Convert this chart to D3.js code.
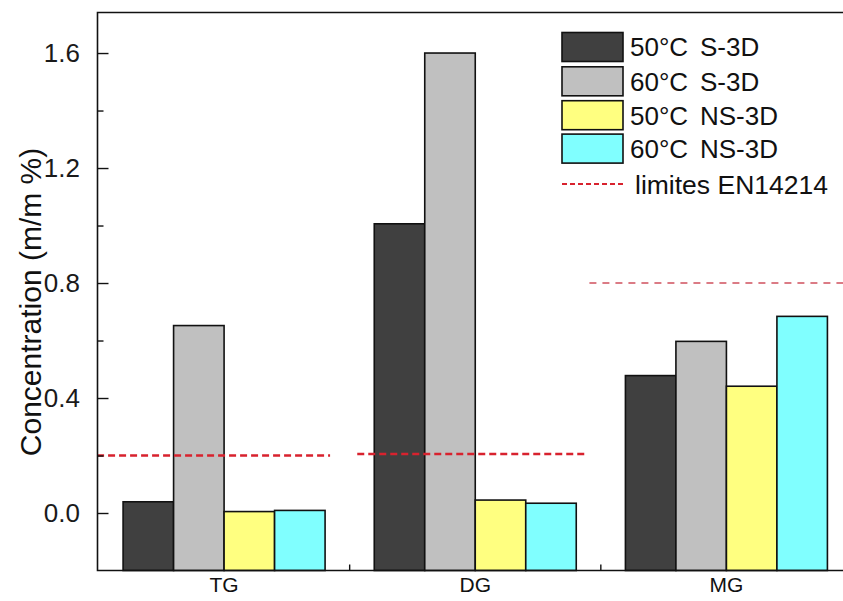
<!DOCTYPE html>
<html><head><meta charset="utf-8">
<script src="https://cdn.jsdelivr.net/npm/d3@7"></script>
<style>
html,body{margin:0;padding:0;background:#fff;}
svg{display:block;font-family:"Liberation Sans",Arial,sans-serif;}
</style></head>
<body><svg id="chart" width="843" height="601"></svg>
<script>
// ---- data ----
const categories = ["TG", "DG", "MG"];
const seriesTemps = ["50°C", "60°C", "50°C", "60°C"];
const seriesTypes = ["S-3D", "S-3D", "NS-3D", "NS-3D"];
const seriesColors = ["#404040", "#c0c0c0", "#ffff80", "#80ffff"];
const valuesS50 = [0.039, 1.006, 0.478];
const valuesS60 = [0.652, 1.600, 0.597];
const valuesNS50 = [0.005, 0.045, 0.441];
const valuesNS60 = [0.009, 0.034, 0.684];
const limits = [0.2, 0.2, 0.8];
const limitLabel = "limites EN14214";
const yTicks = [0.0, 0.4, 0.8, 1.2, 1.6];
const yMinorTicks = [0.2, 0.6, 1.0, 1.4];
const yTitle = "Concentration (m/m %)";

const seriesValues = [valuesS50, valuesS60, valuesNS50, valuesNS60];

// ---- layout ----
const svg = d3.select("#chart");
const L = 97.5, T = 12.5, B = 570.5, R = 852;
const x = d3.scaleBand().domain(categories).range([98.5, 852]).padding(0);
const sub = d3.scaleBand().domain(d3.range(4)).range([x.bandwidth()/2 - 101, x.bandwidth()/2 + 101]).padding(0);
const y = d3.scaleLinear().domain([-0.2, 1.741]).range([B, T]);

// bars
categories.forEach((c, ci) => {
  const g = svg.append("g").attr("transform", `translate(${x(c)},0)`);
  g.selectAll("rect").data(seriesValues.map((s, si) => ({si, v: s[ci]})))
    .join("rect")
    .attr("x", d => sub(d.si))
    .attr("width", sub.bandwidth())
    .attr("y", d => y(d.v))
    .attr("height", d => B - y(d.v))
    .attr("fill", d => seriesColors[d.si])
    .attr("stroke", "#111")
    .attr("stroke-width", 1.6);
});

// limit lines (hand-placed extents around each category centre)
const limitExt = [[-127, 106], [-118, 113], [-137, 125]];
limits.forEach((v, i) => {
  const cx = x(categories[i]) + x.bandwidth()/2;
  const mg = i === 2;
  const dy = i === 1 ? -1.5 : 0;
  svg.append("line")
    .attr("x1", cx + limitExt[i][0]).attr("x2", cx + limitExt[i][1])
    .attr("y1", y(v) + dy).attr("y2", y(v) + dy)
    .attr("stroke", mg ? "#d0505e" : "#d8222e")
    .attr("stroke-width", mg ? 1.3 : 2.3)
    .attr("stroke-dasharray", mg ? "7,6" : "7,4");
});

// frame
svg.append("path").attr("d", `M${R},${T}H${L}V${B}H${R}`)
  .attr("fill", "none").attr("stroke", "#111").attr("stroke-width", 1.6);

// y axis
const yAxis = d3.axisRight(y).tickValues(yTicks).tickSize(11).tickFormat("");
const ya = svg.append("g").attr("transform", `translate(${L},0)`).call(yAxis);
ya.select(".domain").remove();
ya.selectAll("line").attr("stroke", "#111").attr("stroke-width", 1.4);
const yAxisMinor = d3.axisRight(y).tickValues(yMinorTicks).tickSize(6).tickFormat("");
const ym = svg.append("g").attr("transform", `translate(${L},0)`).call(yAxisMinor);
ym.select(".domain").remove();
ym.selectAll("line").attr("stroke", "#111").attr("stroke-width", 1.4);
svg.selectAll(".ylab").data(yTicks).join("text")
  .attr("x", 80).attr("y", d => y(d)).attr("dy", "0.36em")
  .attr("text-anchor", "end").attr("font-size", 26).attr("fill", "#1a1a1a")
  .text(d => d.toFixed(1));

// x axis: separator ticks between categories
svg.selectAll(".xsep").data(categories.slice(1)).join("line")
  .attr("x1", d => x(d)).attr("x2", d => x(d))
  .attr("y1", B).attr("y2", B - 6)
  .attr("stroke", "#111").attr("stroke-width", 1.4);
svg.selectAll(".xlab").data(categories).join("text")
  .attr("x", d => x(d) + x.bandwidth()/2).attr("y", 592)
  .attr("text-anchor", "middle").attr("font-size", 21).attr("fill", "#111")
  .text(d => d);

// y title
svg.append("text").attr("transform", `translate(41,302) rotate(-90)`)
  .attr("text-anchor", "middle").attr("font-size", 30).attr("fill", "#111")
  .text(yTitle);

// legend
const lg = svg.append("g");
const rowY = [47, 81.3, 115.2, 148.6];
seriesColors.forEach((col, i) => {
  lg.append("rect").attr("x", 562).attr("y", rowY[i] - 14.5).attr("width", 61).attr("height", 29)
    .attr("fill", col).attr("stroke", "#111").attr("stroke-width", 1.6);
  const t = lg.append("text").attr("y", rowY[i]).attr("dy", "0.36em").attr("font-size", 26).attr("fill", "#111");
  t.append("tspan").attr("x", 630).text(seriesTemps[i]);
  t.append("tspan").attr("x", 700).text(seriesTypes[i]);
});
lg.append("line").attr("x1", 562).attr("x2", 626).attr("y1", 184).attr("y2", 184)
  .attr("stroke", "#d8222e").attr("stroke-width", 2).attr("stroke-dasharray", "5,3");
lg.append("text").attr("x", 635).attr("y", 184).attr("dy", "0.36em").attr("font-size", 26.5).attr("fill", "#111")
  .text(limitLabel);
</script></body></html>
